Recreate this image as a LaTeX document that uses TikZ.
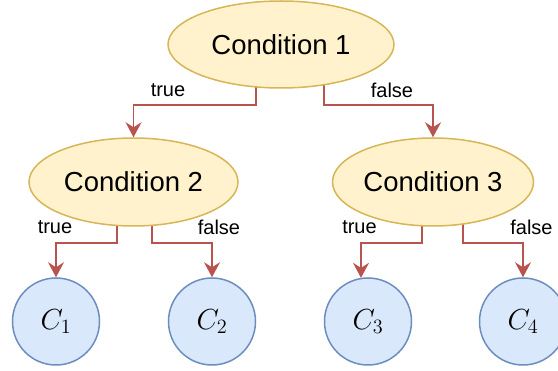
\RequirePackage{fix-cm}
\documentclass[tikz,border=0pt]{standalone}
\usepackage{fontspec}
\setmainfont{Liberation Sans}
\usetikzlibrary{shapes.geometric,arrows.meta,backgrounds}
\definecolor{condfill}{HTML}{FFF2CC}
\definecolor{conddraw}{HTML}{D6B656}
\definecolor{leaffill}{HTML}{DAE8FC}
\definecolor{leafdraw}{HTML}{6C8EBF}
\definecolor{edgecol}{HTML}{B85450}
\newcommand{\leaftext}[1]{\scalebox{1.45}{$#1$}}
\tikzset{
  cond/.style={ellipse, draw=conddraw, fill=condfill, line width=1.5pt, inner sep=0pt,
    font=\fontsize{27.5}{32}\selectfont},
  leaf/.style={circle, draw=leafdraw, fill=leaffill, line width=1.5pt, inner sep=0pt,
    minimum size=87pt, font=\fontsize{20}{24}\selectfont},
  edge/.style={draw=edgecol, line width=1.6pt,
    -{Stealth[length=15pt,width=16pt,inset=5pt]}},
  lab/.style={font=\fontsize{20}{24}\selectfont, inner sep=0pt}
}
\begin{document}
\begin{tikzpicture}[x=1pt,y=-1pt]
\useasboundingbox (0,0) rectangle (558,371);
\node[cond, minimum width=226pt, minimum height=87pt] (c1) at (281,44.5) {Condition 1};
\node[cond, minimum width=209pt, minimum height=88pt] (c2) at (133.5,182) {Condition 2};
\node[cond, minimum width=201pt, minimum height=88pt] (c3) at (433,182) {Condition 3};
\node[leaf] (l1) at (56,321.5) {\leaftext{C_1}};
\node[leaf] (l2) at (212,321.5) {\leaftext{C_2}};
\node[leaf] (l3) at (368,321.5) {\leaftext{C_3}};
\node[leaf] (l4) at (523,321.5) {\leaftext{C_4}};
\begin{scope}[on background layer]
\draw[edge] ([xshift=-25pt]c1.center) -- ++(0,60.5) -| (c2.north);
\draw[edge] ([xshift=43pt]c1.center) -- ++(0,60.5) -| (c3.north);
\draw[edge] ([xshift=-16.5pt]c2.center) -- ++(0,61) -| (l1.north);
\draw[edge] ([xshift=18.5pt]c2.center) -- ++(0,61) -| (l2.north);
\draw[edge] ([xshift=-11pt]c3.center) -- ++(0,61) -| ([xshift=-7pt,yshift=-0.6pt]l3.north);
\draw[edge] ([xshift=30pt]c3.center) -- ++(0,61) -| (l4.north);
\end{scope}
\node[lab] (t1) at (168,90) {true};
\node[lab] (f1) at (392,90) {false};
\node[lab] (t2) at (55,227) {true};
\node[lab] (f2) at (219,227) {false};
\node[lab] (t3) at (359.5,227) {true};
\node[lab] (f3) at (531.5,227) {false};
\end{tikzpicture}
\end{document}
